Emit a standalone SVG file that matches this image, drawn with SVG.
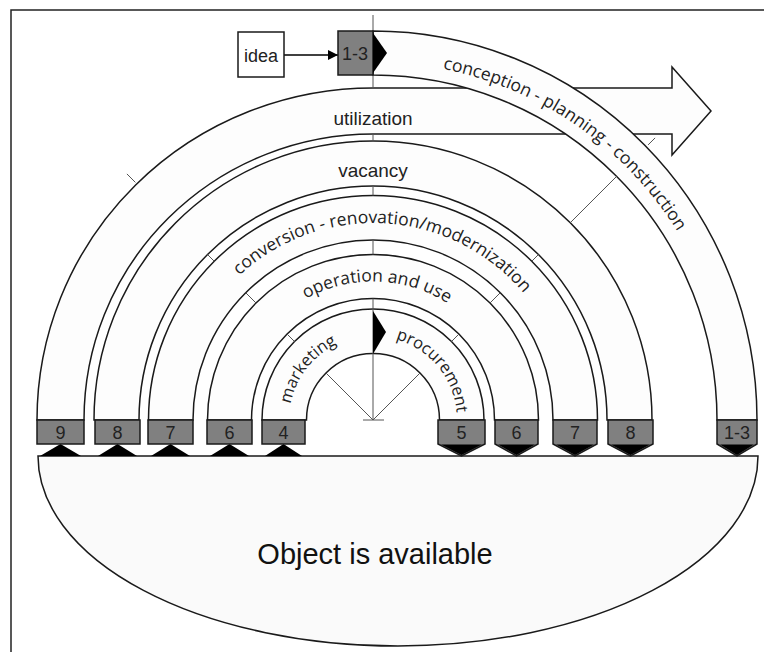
<svg xmlns="http://www.w3.org/2000/svg" width="764" height="652" viewBox="0 0 764 652">
<defs>
<style>
.band{fill:#fdfdfd;stroke:#1a1a1a;stroke-width:1.5}
.tick{stroke:#555;stroke-width:1;fill:none}
.box{fill:#808080;stroke:#1a1a1a;stroke-width:1.5}
.tri{fill:#000}
.num{font-family:"Liberation Sans",Arial,sans-serif;font-size:18px;fill:#222;text-anchor:middle}
.hl{font-family:"Liberation Sans",Arial,sans-serif;font-size:19px;fill:#222;text-anchor:middle}
.cl{font-family:"Open Sans","Liberation Sans",sans-serif;font-size:17.5px;fill:#222}
.cs{font-family:"Open Sans","Liberation Sans",sans-serif;font-size:16.5px;fill:#222}
</style>
<marker id="ah" markerWidth="10" markerHeight="10" refX="10" refY="5" orient="auto" markerUnits="userSpaceOnUse">
<path d="M0,0 L10,5 L0,10 Z" fill="#000"/>
</marker>
<path id="p13" d="M 373,62 A 358 358 0 0 1 731,420"/>
<path id="pConv" d="M 176,420 A 197 197 0 0 1 570,420"/>
<path id="pOp" d="M 234.5,420 A 138.5 138.5 0 0 1 511.5,420"/>
<path id="pMark" d="M 289,420 A 84 84 0 0 1 457,420"/>
</defs>
<rect x="0" y="0" width="764" height="652" fill="#fff"/>
<rect x="11" y="10" width="780" height="680" fill="none" stroke="#222" stroke-width="1.5"/>

<g id="object">
<path d="M 38,456 L 758,456 A 360 190 0 0 1 38,456 Z" fill="#fafafa" stroke="#1a1a1a" stroke-width="1.5"/>
<text x="375" y="564" font-family="Liberation Sans, Arial, sans-serif" font-size="29" fill="#111" text-anchor="middle">Object is available</text>
</g>

<g id="band-utilization">
<path class="band" d="M 37,420 A 336 332 0 0 1 373,88 L 672,88 L 672,67 L 711,111 L 672,155 L 672,134 L 373,134 A 289 286 0 0 0 84,420 Z"/>
<text class="hl" x="373" y="125">utilization</text>
</g>

<g id="band-conception">
<path class="band" d="M 373,31 A 384 389 0 0 1 757,420 L 717,420 A 344 345 0 0 0 373,75 Z"/>
<text class="cl"><textPath href="#p13" startOffset="38.6%" text-anchor="middle">conception - planning - construction</textPath></text>
</g>

<g id="band-vacancy">
<path class="band" d="M 94,420 A 279 279 0 0 1 652,420 L 607,420 A 234 234 0 0 0 139,420 Z"/>
<text class="hl" x="373" y="177">vacancy</text>
</g>

<g id="band-conversion">
<path class="band" d="M 148.5,420 A 224.5 224.5 0 0 1 597.5,420 L 553,420 A 180 180 0 0 0 193,420 Z"/>
<text class="cl"><textPath href="#pConv" startOffset="52%" text-anchor="middle">conversion - renovation/modernization</textPath></text>
</g>

<g id="band-operation">
<path class="band" d="M 207.5,420 A 165.5 165.5 0 0 1 538.5,420 L 494.5,420 A 121.5 121.5 0 0 0 251.5,420 Z"/>
<text class="cl"><textPath href="#pOp" startOffset="51%" text-anchor="middle">operation and use</textPath></text>
</g>

<g id="band-marketing">
<path class="band" d="M 262,420 A 111 111 0 0 1 484,420 L 439.5,420 A 66.5 66.5 0 0 0 306.5,420 Z"/>
<text class="cs"><textPath href="#pMark" startOffset="21%" text-anchor="middle">marketing</textPath></text>
<text class="cs"><textPath href="#pMark" startOffset="78%" text-anchor="middle">procurement</textPath></text>
</g>

<g id="connectors">
<g class="tick">
<path d="M373,15 V31 M373,75 V88 M373,134 V141 M373,186 V195.5 M373,240 V254.5 M373,298.5 V420"/>
<path d="M363,420 H384"/>
<path d="M373,420 L420,373 M373,420 L326,373"/>
<path d="M451.5,341.5 L458.9,334.1 M490,303 L500.3,292.7 M531.7,261.3 L538.5,254.5 M570.3,222.7 L616.6,176.4 M648.1,144.9 L655.1,137.9"/>
<path d="M294.5,341.5 L287.1,334.1 M256,303 L245.7,292.7 M214.3,261.3 L207.5,254.5 M135.4,182.4 L126.9,173.9"/>
</g>
<line x1="284" y1="55" x2="338" y2="55" stroke="#000" stroke-width="1.5" marker-end="url(#ah)"/>
<polygon points="373,311 386,332 373,354" fill="#000"/>
</g>

<g id="node-idea">
<rect x="238" y="32" width="46" height="45" fill="#fff" stroke="#1a1a1a" stroke-width="1.5"/>
<text x="261" y="62" font-family="Liberation Sans, Arial, sans-serif" font-size="18" fill="#222" text-anchor="middle">idea</text>
</g>

<g id="node-top-1-3">
<rect class="box" x="338" y="31" width="35" height="44"/>
<polygon class="tri" points="373,33 387,53 373,73"/>
<text class="num" x="355" y="60">1-3</text>
</g>

<g id="node-l9"><path class="tri" d="M40,456 L81,456 L60.5,444 Z"/><rect class="box" x="37" y="420" width="47" height="24"/><text class="num" x="60.5" y="439">9</text></g>
<g id="node-l8"><path class="tri" d="M98,456 L137,456 L117.5,444 Z"/><rect class="box" x="95" y="420" width="45" height="24"/><text class="num" x="117.5" y="439">8</text></g>
<g id="node-l7"><path class="tri" d="M151,456 L190,456 L170.5,444 Z"/><rect class="box" x="148" y="420" width="45" height="24"/><text class="num" x="170.5" y="439">7</text></g>
<g id="node-l6"><path class="tri" d="M210,456 L249,456 L229.5,444 Z"/><rect class="box" x="207" y="420" width="45" height="24"/><text class="num" x="229.5" y="439">6</text></g>
<g id="node-l4"><path class="tri" d="M265,456 L302,456 L283.5,444 Z"/><rect class="box" x="262" y="420" width="43" height="24"/><text class="num" x="283.5" y="439">4</text></g>

<g id="node-r5"><path class="box" d="M438,420 H485 V444 L461.5,456 L438,444 Z"/><path class="tri" d="M441,444.5 L482,444.5 L461.5,455 Z"/><text class="num" x="461.5" y="439">5</text></g>
<g id="node-r6"><path class="box" d="M495,420 H538 V444 L516.5,456 L495,444 Z"/><path class="tri" d="M498,444.5 L535,444.5 L516.5,455 Z"/><text class="num" x="516.5" y="439">6</text></g>
<g id="node-r7"><path class="box" d="M553,420 H597 V444 L575,456 L553,444 Z"/><path class="tri" d="M556,444.5 L594,444.5 L575,455 Z"/><text class="num" x="575" y="439">7</text></g>
<g id="node-r8"><path class="box" d="M608,420 H653 V444 L630.5,456 L608,444 Z"/><path class="tri" d="M611,444.5 L650,444.5 L630.5,455 Z"/><text class="num" x="630.5" y="439">8</text></g>
<g id="node-r13"><path class="box" d="M717,420 H757 V444 L737,456 L717,444 Z"/><path class="tri" d="M720,444.5 L754,444.5 L737,455 Z"/><text class="num" x="737" y="439">1-3</text></g>
</svg>
